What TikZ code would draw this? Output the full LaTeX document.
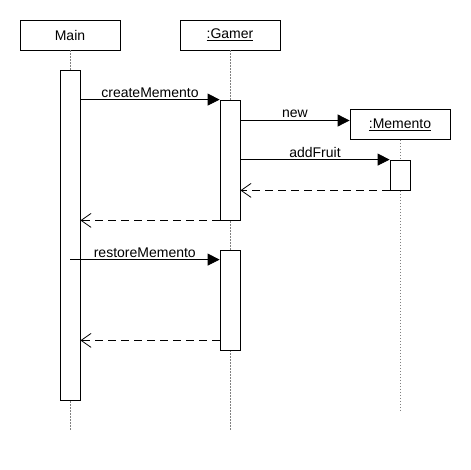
\documentclass[tikz,border=0pt]{standalone}
\usepackage{fontspec}
\setmainfont{Liberation Sans}
\usetikzlibrary{arrows.meta}
\begin{document}
\begin{tikzpicture}[x=1pt,y=-1pt,
  every node/.style={font=\fontsize{14}{16}\selectfont},
  objbox/.style={draw,line width=0.8pt,minimum width=100pt,minimum height=30pt,inner sep=0pt,fill=white},
  actbox/.style={draw,line width=0.8pt,minimum width=20pt,inner sep=0pt,fill=white},
  lifeline/.style={draw=gray,line width=0.6pt,dash pattern=on 1.5pt off 1.5pt},
  msg/.style={line width=0.8pt,-{Triangle[length=12pt,width=12pt]}},
  ret/.style={line width=0.8pt,dash pattern=on 8pt off 5pt,-{Straight Barb[length=10pt,width=14pt,line width=0.8pt]}},
  lbl/.style={above,inner sep=2pt}]
\useasboundingbox (0,0) rectangle (470,470);
% objects
\node[objbox] (main) at (70,35) {Main};
\node[objbox] (gamer) at (230,35) {\underline{:Gamer}};
\node[objbox] (mem) at (400,124.5) {\underline{:Memento}};
% lifeline ends
\coordinate (mainEnd) at (70,430);
\coordinate (gamerEnd) at (230,430);
\coordinate (memEnd) at (400,410);
\draw[lifeline] (main.south) -- (mainEnd);
\draw[lifeline] (gamer.south) -- (gamerEnd);
\draw[lifeline] (mem.south) -- (memEnd);
% activations
\node[actbox,minimum height=330pt] (ma) at (70,235) {};
\node[actbox,minimum height=120pt] (g1) at (230,160) {};
\node[actbox,minimum height=30pt] (m1) at (400,175) {};
\node[actbox,minimum height=100pt] (g2) at (230,300) {};
% messages
\draw[msg] (ma.east |- g1.north west) -- node[lbl] {createMemento} (g1.north west);
\coordinate (newEnd) at ([yshift=4pt]mem.west);
\draw[msg] (g1.east |- newEnd) -- node[lbl] {new} (newEnd);
\draw[msg] (g1.east |- m1.north west) -- node[lbl] {addFruit} (m1.north west);
\draw[ret] (m1.south west) -- (g1.east |- m1.south west);
\draw[ret] (g1.south west) -- (ma.east |- g1.south west);
\coordinate (rsEnd) at ([yshift=-10pt]g2.north west);
\draw[msg] (ma.center |- rsEnd) -- node[lbl] {restoreMemento} (rsEnd);
\coordinate (rsRet) at ([yshift=10pt]g2.south west);
\draw[ret] (rsRet) -- (ma.east |- rsRet);
\end{tikzpicture}
\end{document}
